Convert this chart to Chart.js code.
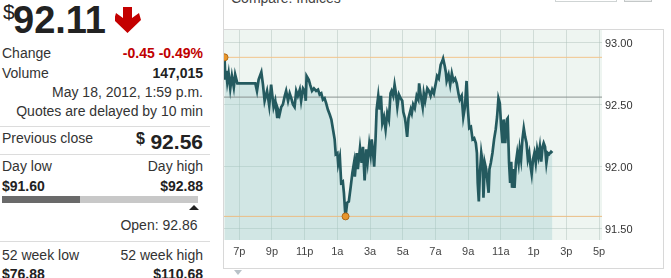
<!DOCTYPE html>
<html><head><meta charset="utf-8">
<script src="https://cdn.jsdelivr.net/npm/chart.js@4.4.0/dist/chart.umd.min.js"></script>
<style>
html,body{margin:0;padding:0;background:#fff;}
body{position:relative;width:671px;height:278px;overflow:hidden;font-family:"Liberation Sans",Arial,sans-serif;color:#333;}
.a{position:absolute;white-space:nowrap;line-height:1;}
.l{left:2px;font-size:14px;}
.r{right:468px;font-size:14px;text-align:right;}
.b{font-weight:bold;color:#222;}
.sep{position:absolute;left:0;width:210px;height:1px;background:#dcdcdc;}
</style></head><body>
<script>
// ---- data (minutes after 6:00 p.m., May 17) ----
const minutes = [
6,9,12,16,21,27,33,40,45,53,
70,95,119,125,131,141,147,153,162,170,
177,186,192,199,202,208,214,220,227,232,
239,245,251,257,263,269,275,282,287,294,
300,304,307,315,320,327,334,342,349,355,
361,367,373,379,385,392,398,404,410,414,
420,423,429,434,440,444,448,450,456,462,
469,475,481,484,491,495,503,509,514,520,
526,531,537,542,546,550,555,560,564,570,
575,580,585,591,597,603,609,615,619,625,
630,635,640,646,652,658,662,668,671,676,
681,689,693,698,704,711,717,720,726,733,
737,742,750,756,762,768,774,781,786,792,
799,805,808,814,818,821,828,834,840,846,
852,858,865,869,876,882,888,894,899,904,
910,916,922,928,932,935,939,943,948,953,
956,961,966,971,975,978,983,989,995,1001,
1006,1011,1016,1021,1026,1030,1036,1042,1045,1050,
1054,1058,1061,1066,1070,1075,1080,1085,1089,1094,
1099,1104,1109,1114,1119,1124,1129,1133,1138,1143,
1148,1153,1158,1163,1168,1173,1177,1182,1187,1192,
1197,1204,1209];
const prices = [
92.88,92.70,92.77,92.68,92.75,92.63,92.73,92.64,92.74,92.67,
92.67,92.67,92.67,92.61,92.70,92.76,92.66,92.53,92.61,92.49,
92.66,92.48,92.53,92.40,92.46,92.42,92.48,92.50,92.57,92.61,
92.53,92.59,92.55,92.50,92.48,92.61,92.57,92.62,92.53,92.63,
92.61,92.53,92.73,92.70,92.66,92.61,92.63,92.61,92.62,92.58,
92.59,92.54,92.55,92.51,92.46,92.42,92.38,92.30,92.22,92.10,
92.11,92.02,92.08,91.87,91.88,91.79,91.65,91.60,91.71,91.72,
91.84,91.95,92.03,91.92,92.11,91.98,92.15,92.03,92.16,91.89,
92.14,92.04,92.18,92.10,92.22,92.14,92.00,92.22,92.46,92.57,
92.46,92.57,92.35,92.40,92.30,92.43,92.38,92.59,92.61,92.57,
92.66,92.59,92.48,92.58,92.55,92.53,92.44,92.39,92.34,92.24,
92.39,92.46,92.43,92.50,92.47,92.57,92.54,92.67,92.57,92.48,
92.59,92.53,92.63,92.61,92.57,92.62,92.59,92.67,92.73,92.71,
92.82,92.85,92.87,92.81,92.76,92.69,92.74,92.66,92.75,92.69,
92.71,92.67,92.58,92.54,92.57,92.40,92.48,92.69,92.46,92.31,
92.32,92.22,92.23,92.19,92.11,91.87,91.72,91.95,92.11,92.03,
91.75,92.03,91.98,91.87,91.79,91.98,92.03,92.11,92.22,92.30,
92.40,92.55,92.51,92.32,92.19,92.38,92.19,92.38,92.39,92.03,
91.87,92.04,91.83,91.98,91.83,92.03,92.11,92.03,92.14,92.06,
92.22,92.31,92.24,92.19,92.06,92.11,92.00,91.94,92.06,92.11,
92.03,92.14,92.08,92.16,92.04,92.16,92.19,92.16,92.03,92.11,
92.10,92.12,92.11];
const dayHigh = 92.88;
const dayLow = 91.60;
const prevClose = 92.56;
const xTickMinutes = [60,180,300,420,540,660,780,900,1020,1140,1260,1380];
const xTickLabels = ['7p','9p','11p','1a','3a','5a','7a','9a','11a','1p','3p','5p'];
const yTicks = [91.5, 92.0, 92.5, 93.0];
</script>

<div class="a" style="left:3px;top:1px;font-size:21px;color:#222">$</div>
<div class="a b" style="left:13px;top:0.5px;font-size:38px;">92.11</div>
<svg class="a" style="left:115px;top:5px" width="28" height="30" viewBox="0 0 28 30">
  <polygon points="8,2 17,2 17,13 24,8 26,15 12.5,28 -1,15 1,8 8,13" fill="#c40000"/>
</svg>

<div class="a l" style="top:46px">Change</div>
<div class="a r b" style="top:46px;color:#c00000">-0.45 -0.49%</div>
<div class="a l" style="top:65.5px">Volume</div>
<div class="a r b" style="top:65.5px">147,015</div>
<div class="a r" style="top:85px">May 18, 2012, 1:59 p.m.</div>
<div class="a r" style="top:104px">Quotes are delayed by 10 min</div>
<div class="sep" style="top:126px"></div>
<div class="a l" style="top:131px">Previous close</div>
<div class="a b" style="left:136px;top:131px;font-size:16px">$</div>
<div class="a r b" style="top:130.5px;font-size:21px">92.56</div>
<div class="sep" style="top:154px"></div>
<div class="a l" style="top:159px">Day low</div>
<div class="a r" style="top:159px">Day high</div>
<div class="a l b" style="top:179px">$91.60</div>
<div class="a r b" style="top:179px">$92.88</div>
<div style="position:absolute;left:2px;top:196px;width:78px;height:7px;background:#6a6a6a"></div>
<div style="position:absolute;left:80px;top:196px;width:118px;height:7px;background:#c8c8c8"></div>
<div style="position:absolute;left:189px;top:205px;width:0;height:0;border-left:5px solid transparent;border-right:5px solid transparent;border-bottom:5px solid #222"></div>
<div class="a" style="right:473.5px;top:218px;font-size:14px">Open: 92.86</div>
<div class="sep" style="top:241px"></div>
<div class="a l" style="top:248px">52 week low</div>
<div class="a r" style="top:248px">52 week high</div>
<div class="a l b" style="top:266.5px">$76.88</div>
<div class="a r b" style="top:266.5px">$110.68</div>

<div class="a" style="left:231px;top:-9.5px;font-size:14px;color:#444">Compare: Indices</div>
<div style="position:absolute;left:555px;top:-20px;width:62px;height:22px;border:1px solid #cfd4d4;box-sizing:border-box"></div>
<div style="position:absolute;left:624px;top:-20px;width:28px;height:22px;border:1px solid #c4c8c8;background:#eef0f0;box-sizing:border-box"></div>
<div style="position:absolute;left:223px;top:0;width:1px;height:30px;background:#d8d8d8"></div>
<div style="position:absolute;left:223px;top:29px;width:441px;height:240px;border:1px solid #d8d8d8;box-sizing:border-box"></div>
<canvas id="c" width="439" height="238" style="position:absolute;left:224px;top:30px"></canvas>
<div style="position:absolute;left:234px;top:270px;width:0;height:0;border-left:4px solid transparent;border-right:4px solid transparent;border-top:5px solid #b9c2c8"></div>

<script>
Chart.defaults.font.family = '"Liberation Sans", Arial, sans-serif';
const xMin = 4, xMax = 1391;
const pts = minutes.map((m, i) => ({x: m, y: prices[i]}));
const iHigh = prices.indexOf(Math.max(...prices));
const iLow = prices.indexOf(Math.min(...prices));
const hline = v => [{x: xMin, y: v}, {x: xMax, y: v}];

const bgPlugin = {
  id: 'bg',
  beforeDraw(c) {
    const {ctx, chartArea: a} = c;
    ctx.save();
    ctx.fillStyle = '#eef5f1';
    ctx.fillRect(a.left, a.top, a.right - a.left, a.bottom - a.top);
    ctx.restore();
  }
};

new Chart(document.getElementById('c'), {
  type: 'line',
  data: {
    datasets: [
      {data: pts, borderColor: '#245a5f', borderWidth: 2.7, pointRadius: 0, tension: 0,
       fill: 'start', backgroundColor: 'rgba(151,202,201,0.34)', order: 1},
      {data: hline(dayHigh), borderColor: '#f2c48c', borderWidth: 1, pointRadius: 0, fill: false, order: 2},
      {data: hline(dayLow), borderColor: '#ebbd84', borderWidth: 1, pointRadius: 0, fill: false, order: 2},
      {data: hline(prevClose), borderColor: '#8a9290', borderWidth: 1, pointRadius: 0, fill: false, order: 2},
      {data: [pts[iHigh], pts[iLow]], showLine: false, pointRadius: 3.5, pointBackgroundColor: '#e8962c',
       pointBorderColor: '#b06a1a', pointBorderWidth: 1, order: 0}
    ]
  },
  options: {
    responsive: false, animation: false, devicePixelRatio: 1,
    layout: {padding: 0, autoPadding: false},
    plugins: {legend: {display: false}, tooltip: {enabled: false}, filler: {drawTime: 'beforeDatasetsDraw'}},
    scales: {
      x: {
        type: 'linear', min: xMin, max: xMax,
        afterBuildTicks: s => { s.ticks = xTickMinutes.map(v => ({value: v})); },
        afterFit: s => { s.height = 28; s.paddingLeft = 0; s.paddingRight = 0; },
        ticks: {autoSkip: false, maxRotation: 0, padding: 5, color: '#444', font: {size: 11},
                callback: v => xTickLabels[xTickMinutes.indexOf(v)]},
        grid: {color: 'rgba(170,190,185,0.45)', drawTicks: false},
        border: {display: false}
      },
      y: {
        position: 'right', min: 91.41, max: 93.10,
        afterBuildTicks: s => { s.ticks = yTicks.map(v => ({value: v})); },
        afterFit: s => { s.width = 61; s.paddingTop = 0; s.paddingBottom = 0; },
        ticks: {padding: 3, labelOffset: 1.5, color: '#333', font: {size: 11}, callback: v => Number(v).toFixed(2)},
        grid: {color: 'rgba(170,190,185,0.45)', drawTicks: false},
        border: {display: false}
      }
    }
  },
  plugins: [bgPlugin]
});
</script>
</body></html>
